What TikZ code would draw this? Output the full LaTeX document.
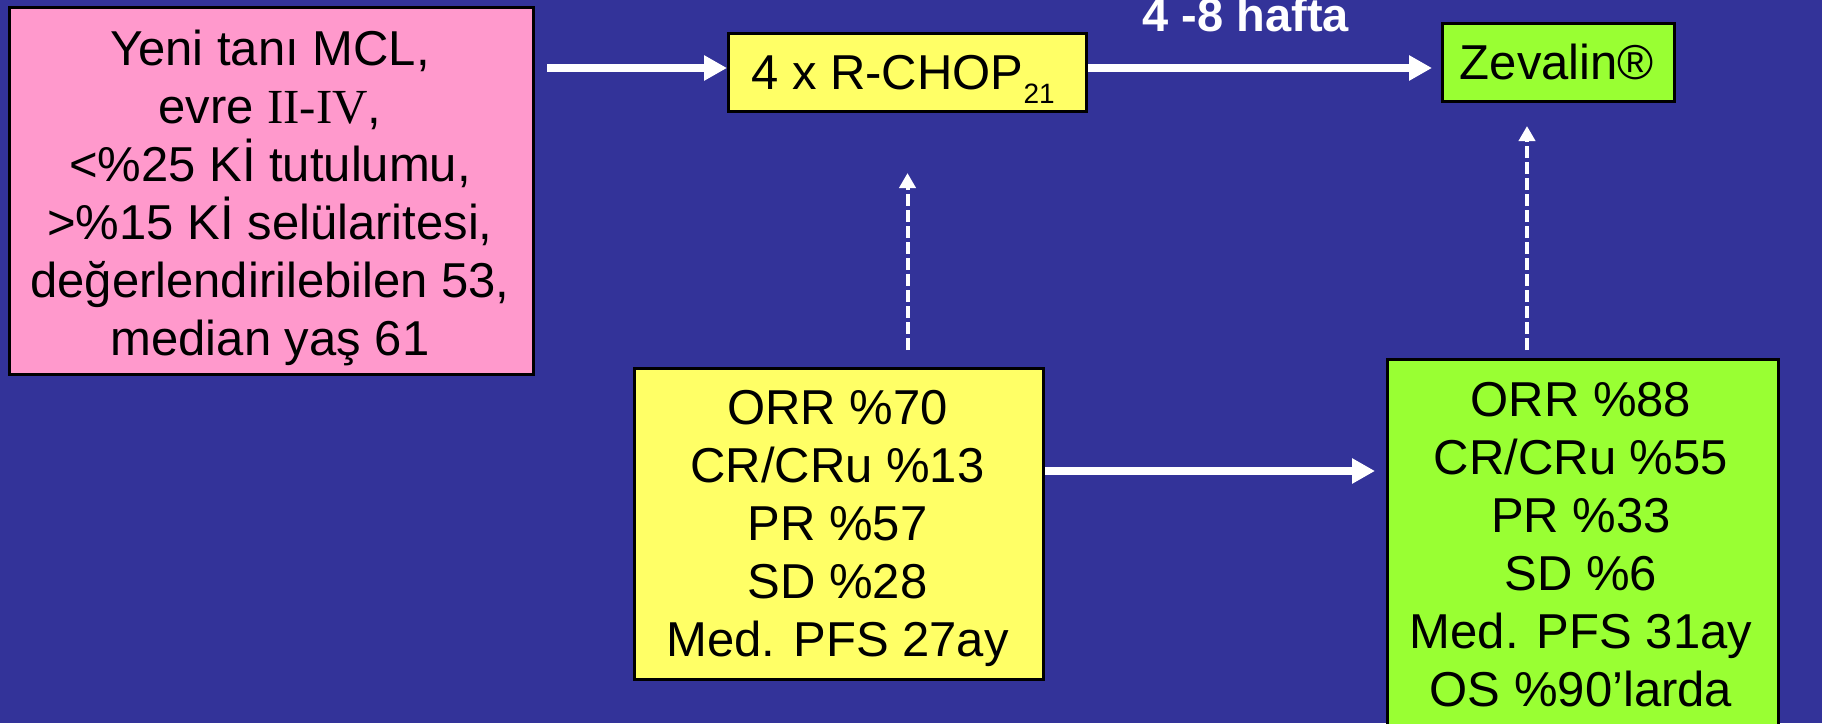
\documentclass[tikz,border=0pt]{standalone}
\usepackage{fontspec}
\setmainfont{Liberation Sans}
\newfontfamily\serifroman{Liberation Serif}
\usetikzlibrary{arrows.meta}
\definecolor{bg}{RGB}{51,51,153}
\definecolor{pinkc}{RGB}{255,153,204}
\definecolor{yellowc}{RGB}{255,255,102}
\definecolor{greenc}{RGB}{153,255,51}
\begin{document}
\begin{tikzpicture}[x=1pt,y=-1pt,
  box/.style={draw=black, line width=3pt, inner sep=0pt, anchor=north west},
  txt/.style={inner sep=0pt, align=center, text=black, font=\fontsize{49}{58}\selectfont},
  solidarr/.style={draw=white, line width=8pt, -{Triangle[length=23pt,width=24pt]}},
  dasharr/.style={draw=white, line width=4pt, dash pattern=on 12pt off 4pt, -{Triangle[length=15pt,width=16pt]}}]
\useasboundingbox (0,0) rectangle (1822,723);
\fill[bg] (0,0) rectangle (1822,723);
\clip (0,0) rectangle (1822,723);
% boxes
\node[box, fill=pinkc, minimum width=524pt, minimum height=367pt] (pink) at (8,6) {};
\node[box, fill=yellowc, minimum width=358pt, minimum height=78pt] (rchop) at (727,32) {};
\node[box, fill=greenc, minimum width=232pt, minimum height=78pt] (zev) at (1441,22) {};
\node[box, fill=yellowc, minimum width=409pt, minimum height=311pt] (ybox) at (633,367) {};
\node[box, fill=greenc, minimum width=391pt, minimum height=400pt] (gbox) at (1386,358) {};
% texts
\node[txt, anchor=north] (pinkt) at (270,29.3) {Yeni tanı MCL,\\ evre {\serifroman II-IV},\\ <\%25 Kİ tutulumu,\\ >\%15 Kİ selülaritesi,\\ değerlendirilebilen 53,\\ median yaş 61};
\node[txt, anchor=base] (rchopt) at (903,89) {4 x R-CHOP\raisebox{-14pt}{\fontsize{28}{28}\selectfont 21}};
\node[txt, anchor=base] (zevt) at (1557,79) {Zevalin®};
\node[inner sep=0pt, anchor=base, text=white, font=\bfseries\fontsize{47}{56}\selectfont] (wk) at (1246,31.7) {4 -8 hafta};
\node[txt, anchor=north] (yt) at (837.5,390) {ORR \%70\\ CR/CRu \%13\\ PR \%57\\ SD \%28\\ Med. PFS 27ay};
\node[txt, anchor=north] (gt) at (1581,382) {ORR \%88\\ CR/CRu \%55\\ PR \%33\\ SD \%6\\ Med. PFS 31ay\\ OS \%90’larda};
% connectors
\coordinate (h1) at (547,68);
\draw[solidarr] (h1) -- (h1 -| rchop.west);
\draw[solidarr, shorten >=9pt] (h1 -| rchop.east) -- (h1 -| zev.west);
\coordinate (h2) at (0,471);
\draw[solidarr, shorten >=11pt] (h2 -| ybox.east) -- (h2 -| gbox.west);
\draw[dasharr, shorten <=17pt, shorten >=60pt] (rchop.south |- ybox.north) -- (rchop.south);
\coordinate (v2) at (1527,0);
\draw[dasharr, shorten <=8pt, shorten >=23pt] (v2 |- gbox.north) -- (v2 |- zev.south);
\end{tikzpicture}
\end{document}
